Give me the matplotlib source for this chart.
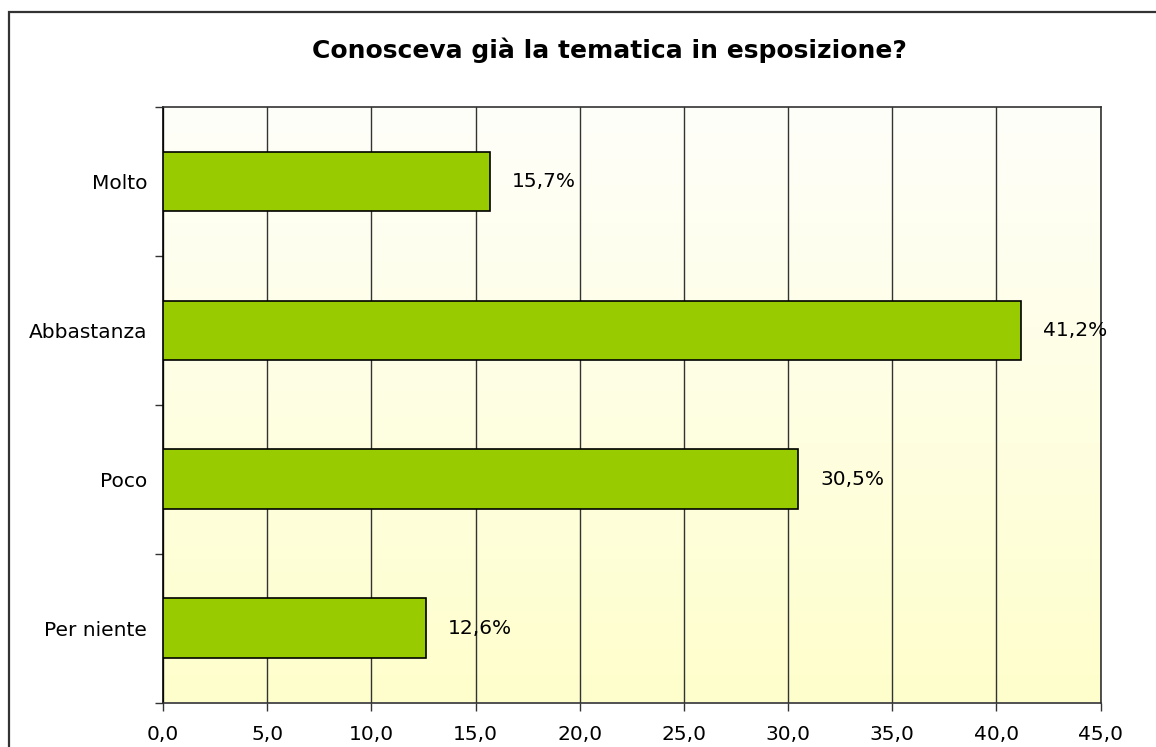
import matplotlib
matplotlib.use("Agg")
import matplotlib.pyplot as plt
import numpy as np
from matplotlib.colors import LinearSegmentedColormap
from matplotlib.patches import Rectangle

categories = ["Molto", "Abbastanza", "Poco", "Per niente"]
values = [15.7, 41.2, 30.5, 12.6]
value_labels = ["15,7%", "41,2%", "30,5%", "12,6%"]
xticks = [0, 5, 10, 15, 20, 25, 30, 35, 40, 45]
xtick_labels = ["0,0", "5,0", "10,0", "15,0", "20,0", "25,0", "30,0", "35,0", "40,0", "45,0"]
title = "Conosceva già la tematica in esposizione?"

plt.rcParams['font.family'] = ['DejaVu Sans']

fig = plt.figure(figsize=(11.56, 7.47), dpi=100)
fig.patch.set_facecolor("white")

# outer chart frame
frame = Rectangle((9 / 1156, -0.05), 1.2, (747 - 12) / 747 + 0.05, transform=fig.transFigure,
                  fill=False, edgecolor="#333333", linewidth=1.6, zorder=0)
fig.patches.append(frame)

ax = fig.add_axes([163 / 1156, 44.5 / 747, (1100.5 - 163) / 1156, (702.5 - 107) / 747])

# gradient background
cmap = LinearSegmentedColormap.from_list("bg", ["#FFFFCC", "#FEFEFA"])
grad = np.linspace(0, 1, 256).reshape(-1, 1)
ax.imshow(grad, aspect="auto", cmap=cmap, origin="lower",
          extent=[0, 1, 0, 1], transform=ax.transAxes, zorder=0)

y = np.arange(len(categories))
ax.barh(y, values, height=0.4, color="#99CC00", edgecolor="black", linewidth=1.2, zorder=3)

for yi, v, lab in zip(y, values, value_labels):
    ax.text(v + 1.05, yi, lab, va="center", ha="left", fontsize=14.5, color="black", zorder=4)

ax.set_xlim(0, 45)
ax.set_ylim(len(categories) - 0.5, -0.5)
ax.set_xticks(xticks)
ax.set_xticklabels(xtick_labels, fontsize=14.5)
ax.set_yticks(y)
ax.set_yticklabels(categories, fontsize=14.5)
ax.set_yticks(np.arange(-0.5, len(categories)), minor=True)
ax.tick_params(axis="y", which="major", length=0, pad=11.5)
ax.tick_params(axis="y", which="minor", length=6, width=1, color="#333333", direction="out")
ax.tick_params(axis="x", which="major", length=6, width=1, color="#333333", direction="out", pad=10.5)

ax.grid(axis="x", color="#333333", linewidth=1, zorder=1)
ax.set_axisbelow(True)
for side in ["top", "right", "bottom"]:
    ax.spines[side].set_color("#333333")
    ax.spines[side].set_linewidth(1.2)
ax.spines["left"].set_color("black")
ax.spines["left"].set_linewidth(1.2)

fig.text(609 / 1156, 1 - 50 / 747, title, ha="center", va="center",
         fontsize=18, fontweight="bold", color="black")

fig.savefig("out.png", dpi=100)
